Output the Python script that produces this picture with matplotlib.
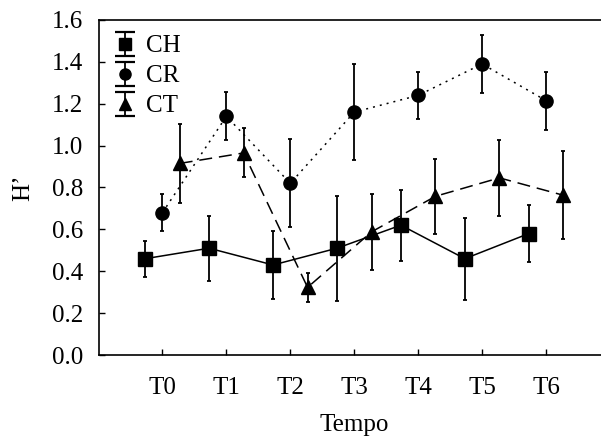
import numpy as np
import matplotlib
matplotlib.use("Agg")
import matplotlib.pyplot as plt
from matplotlib.container import ErrorbarContainer
from matplotlib.legend_handler import HandlerErrorbar

plt.rcParams['font.family'] = ['Liberation Serif', 'DejaVu Serif']

categories = ["T0", "T1", "T2", "T3", "T4", "T5", "T6"]
yticks = [0.0, 0.2, 0.4, 0.6, 0.8, 1.0, 1.2, 1.4, 1.6]

ch_mean = [0.46, 0.51, 0.43, 0.51, 0.62, 0.46, 0.58]
ch_err = [0.086, 0.155, 0.163, 0.25, 0.169, 0.195, 0.135]

cr_mean = [0.68, 1.14, 0.82, 1.16, 1.24, 1.39, 1.215]
cr_err = [0.087, 0.115, 0.21, 0.228, 0.113, 0.14, 0.138]

ct_mean = [0.915, 0.965, 0.323, 0.588, 0.758, 0.846, 0.763]
ct_err = [0.19, 0.117, 0.069, 0.18, 0.18, 0.18, 0.21]

fig = plt.figure(figsize=(6.01, 4.44), dpi=100)
ax = fig.add_axes([98.5 / 601, 89 / 444, 511.5 / 601, 335 / 444])

x = np.arange(len(categories))
off = 0.27
fs = 18

series = [
    ("CH", ch_mean, ch_err, -off, 's', '-', 9.5),
    ("CR", cr_mean, cr_err, 0.0, 'o', (0, (1.3, 3.3)), 9.5),
    ("CT", ct_mean, ct_err, off, '^', (0, (8.5, 4.5)), 10),
]

proxies = []
for name, m, e, dx, mk, ls, ms in series:
    ax.errorbar(x + dx, m, yerr=e, marker=mk, linestyle=ls, color='black',
                markersize=ms, linewidth=1.1,
                elinewidth=1.3, capsize=1.5, capthick=1.3)
    p = ax.errorbar([np.nan], [np.nan], yerr=[0.1], marker=mk, linestyle='none',
                    color='black', markersize=ms - 1.5,
                    elinewidth=1.3, capsize=7, capthick=1.6, label=name)
    proxies.append(p)

ax.set_xlim(-1, 7)
ax.set_ylim(0, 1.6)
ax.set_xticks(x)
ax.set_xticklabels(categories)
ax.set_yticks(yticks)
ax.set_yticklabels([f"{v:.1f}" for v in yticks])
ax.tick_params(direction='in', length=4.5, width=1, labelsize=fs)
ax.tick_params(axis='x', pad=15.5)
ax.tick_params(axis='y', pad=11)
for s in ax.spines.values():
    s.set_linewidth(1.2)

ax.set_xlabel("Tempo", fontsize=fs, labelpad=11)
ax.set_ylabel("H\u2019", fontsize=fs, labelpad=13)

leg = ax.legend(handles=proxies, loc='upper left', frameon=False, fontsize=fs,
                handlelength=0.9, handletextpad=0.4, labelspacing=0.3,
                borderaxespad=0.2, numpoints=1,
                handler_map={ErrorbarContainer: HandlerErrorbar(yerr_size=0.48)})

fig.savefig("out.png", dpi=100)
